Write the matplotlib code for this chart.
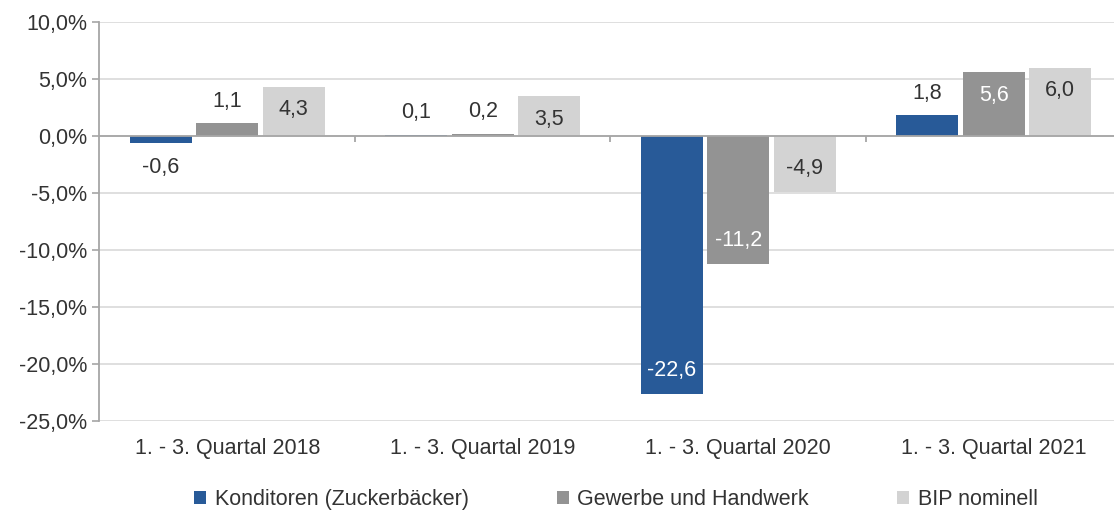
import numpy as np
import matplotlib
matplotlib.use("Agg")
import matplotlib.pyplot as plt
from matplotlib.ticker import FuncFormatter

plt.rcParams['font.family'] = ['Liberation Sans', 'DejaVu Sans']

categories = ['1. - 3. Quartal 2018', '1. - 3. Quartal 2019',
              '1. - 3. Quartal 2020', '1. - 3. Quartal 2021']
series = ['Konditoren (Zuckerbäcker)', 'Gewerbe und Handwerk', 'BIP nominell']
konditoren = [-0.6, 0.1, -22.6, 1.8]
gewerbe = [1.1, 0.2, -11.2, 5.6]
bip = [4.3, 3.5, -4.9, 6.0]

colors = ['#285A98', '#939393', '#D3D3D3']
label_colors = ['white', 'white', '#333333']
text_col = '#333333'
axis_col = '#A6A6A6'
fs = 15.5

fig = plt.figure(figsize=(11.14, 5.13), dpi=100)
# plot area runs a little past the right edge of the picture, as in the original
ax = fig.add_axes([0.0893, 0.1793, 0.9174, 0.7778])

x = np.arange(len(categories))
w = 0.243
offs = [-0.26, 0, 0.26]

for vals, off, c, lc, name in zip([konditoren, gewerbe, bip], offs, colors,
                                  label_colors, series):
    bars = ax.bar(x + off, vals, w, color=c, label=name, zorder=2)
    for b, v in zip(bars, vals):
        txt = f'{v:.1f}'.replace('.', ',')
        inside = abs(v) > 3
        if inside:
            dy = -16.5 if v >= 0 else 16.5
            ax.annotate(txt, (b.get_x() + b.get_width() / 2, v), xytext=(0, dy),
                        textcoords='offset points', ha='center', va='center',
                        fontsize=fs, color=lc, zorder=3)
        else:
            dy = 16 if v >= 0 else -17.5
            ax.annotate(txt, (b.get_x() + b.get_width() / 2, v), xytext=(0, dy),
                        textcoords='offset points', ha='center', va='center',
                        fontsize=fs, color=text_col, zorder=3,
                        bbox=dict(facecolor='white', edgecolor='none', pad=2))

ax.set_ylim(-25, 10)
ax.set_xlim(-0.5, 3.5)
ax.set_yticks(np.arange(-25, 10.1, 5))
ax.yaxis.set_major_formatter(FuncFormatter(lambda v, p: f'{v:.1f}%'.replace('.', ',')))
ax.grid(axis='y', color='#D9D9D9', linewidth=1.2, zorder=0)
ax.set_axisbelow(True)

ax.axhline(0, color=axis_col, linewidth=1.3, zorder=2.5)
ax.vlines([0.5, 1.5, 2.5], -0.5, 0, color=axis_col, linewidth=1.3, zorder=2.5)

ax.set_xticks(x)
ax.set_xticklabels(categories)
ax.tick_params(axis='x', length=0, pad=12, labelsize=fs, colors=text_col)
ax.tick_params(axis='y', length=5, width=1.2, labelsize=fs,
               colors=axis_col, labelcolor=text_col, pad=4)

for s in ['top', 'right', 'bottom']:
    ax.spines[s].set_visible(False)
ax.spines['left'].set_color(axis_col)
ax.spines['left'].set_linewidth(1.3)

leg = fig.legend(loc='center', bbox_to_anchor=(0.553, 0.026), ncol=3,
                 frameon=False, handlelength=0.55, handleheight=0.55,
                 handletextpad=0.4, columnspacing=4.1, fontsize=fs)
for t in leg.get_texts():
    t.set_color(text_col)

fig.savefig('out.png', dpi=100)
